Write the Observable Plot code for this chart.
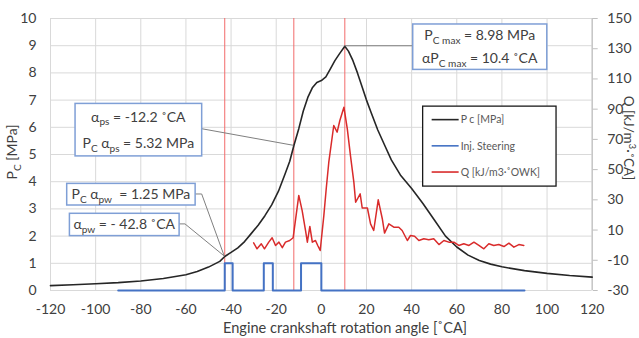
<!DOCTYPE html>
<html><head><meta charset="utf-8">
<script src="https://cdn.jsdelivr.net/npm/d3@7"></script>
<script src="https://cdn.jsdelivr.net/npm/@observablehq/plot@0.6"></script>
<style>
html,body{margin:0;padding:0;background:#fff}
#chart svg{font-family:Lato,"Open Sans",sans-serif;display:block}
</style>
</head><body><div id="chart"></div>
<script>
// ---- data ----
const pAngle = [-120,-110,-100,-90,-80,-70,-60,-55,-50,-45,-42.8,-40,-37,-34,-31,-28,-25,-22,-19,-16,-14,-12.2,-10,-8,-6,-4,-2,0,2,4,6,8,10.4,12,14,16,18,20,22,25,28,31,35,40,45,50,55,60,65,70,75,80,90,100,110,120];
const pValue = [0.18,0.21,0.25,0.29,0.35,0.44,0.58,0.7,0.86,1.07,1.25,1.4,1.57,1.8,2.1,2.4,2.75,3.15,3.65,4.3,4.75,5.32,5.95,6.6,7.1,7.45,7.65,7.72,7.85,8.15,8.45,8.7,8.98,8.8,8.45,8.0,7.5,7.0,6.55,5.9,5.35,4.8,4.25,3.75,3.2,2.6,2.0,1.6,1.3,1.1,0.97,0.87,0.73,0.63,0.55,0.49];

const injAngle = [-90,-42.8,-39.3,-25.5,-21.5,-9,0,90];
const injValue = [0,1,0,1,0,1,0,0];

const qAngle = [-30,-28.5,-26.6,-25.2,-23.3,-21.8,-20.3,-18.8,-17.3,-15.9,-14,-12.5,-10,-8.5,-7,-6.2,-5.1,-4,-2.6,-1.6,-0.5,1.1,2.2,3.3,5.5,7,8.2,10,11.5,12.9,14.4,15.2,17.2,18.1,20.4,21.8,23.2,25.2,27,28,29.9,32.1,34.3,35.8,38.1,39.5,41.3,43.2,45.4,47.6,49.8,52.1,54.3,56.5,58.7,60.9,63.1,65.4,67.6,69.8,72,74.2,76.4,78.6,80.9,83.1,85.3,87.5,89.7];
const qValue = [1.5,-2.4,0.9,-2.4,2,4.9,-0.2,2,-1.7,2,3.1,4.9,32.9,22.9,9.7,2,12.4,2,3.1,-0.2,-3.5,19.6,38,54.9,79.2,74.8,82.5,91.3,77,59.3,41.7,28.4,34,24.6,24.6,14.1,9.7,30,17.5,8,14.1,11.9,11.9,9.7,3.1,6.4,5.9,3.1,4.2,3.6,4.2,0.4,3.1,2,2,-0.2,0.9,-0.2,2,-0.2,-2.4,0.9,-0.2,0.4,-0.9,1.3,-1.3,0.4,-0.2];

const markerAngles = [-42.8,-12.2,10.4];
const xTicks = d3.range(-120,121,20);
const yTicks = d3.range(0,11,1);
const qTicks = d3.range(-30,151,20);
const qDomain = [-30,150];

const seriesNames = ["P c [MPa]","Inj. Steering","Q [kJ/m3·˚OWK]"];
const seriesColors = ["#262626","#4472c4","#d92b2b"];

// ---- tables ----
const qToP = q => (q-qDomain[0])/(qDomain[1]-qDomain[0])*10;
const pToQ = p => Math.round(p/10*(qDomain[1]-qDomain[0])+qDomain[0]);
const pData = pAngle.map((a,i)=>({a, v:pValue[i]}));
const injData = injAngle.map((a,i)=>({a, v:injValue[i]}));
const qData = qAngle.map((a,i)=>({a, v:qToP(qValue[i])}));

const W = 639, H = 338;
const fmt = d => String(d);
const plot = Plot.plot({
  width: W, height: H,
  marginLeft: 50, marginRight: 47.3, marginTop: 18, marginBottom: 48,
  x: {domain:[-120,120]},
  y: {domain:[0,10]},
  style: {fontFamily:"Lato, 'Open Sans', sans-serif", fontSize:"14px", color:"#404040", background:"#fff"},
  marks: [
    Plot.gridX(xTicks, {stroke:"#d9d9d9", strokeOpacity:1}),
    Plot.gridY(yTicks, {stroke:"#d9d9d9", strokeOpacity:1}),
    Plot.ruleX([120], {stroke:"#bfbfbf", strokeWidth:1.2}),
    Plot.axisY(yTicks, {anchor:"left", tickSize:0, tickPadding:14, label:null, fill:"#404040", tickFormat:fmt}),
    Plot.axisY(qTicks.map(qToP), {anchor:"right", tickSize:5, tickPadding:10, stroke:"#bfbfbf", label:null, fill:"#404040", tickFormat:d=>fmt(pToQ(d))}),
    Plot.axisX(xTicks, {anchor:"bottom", tickSize:0, tickPadding:14, label:null, fill:"#404040", tickFormat:fmt}),
    Plot.ruleX(markerAngles, {y1:0, y2:10, stroke:"#f26b6b", strokeWidth:1}),
    Plot.line(pData, {x:"a", y:"v", stroke:seriesColors[0], strokeWidth:1.6}),
    Plot.line(injData, {x:"a", y:"v", stroke:seriesColors[1], strokeWidth:2, curve:"step-after"}),
    Plot.line(qData, {x:"a", y:"v", stroke:seriesColors[2], strokeWidth:1.5})
  ]
});
document.getElementById("chart").appendChild(plot);

const sx = plot.scale("x").apply, sy = plot.scale("y").apply;
const svg = d3.select(plot);
const g = svg.append("g").attr("text-anchor","start");

function richText(parent, x, y, segs, size, anchor, fill){
  const t = parent.append("text").attr("x",x).attr("y",y)
    .attr("text-anchor",anchor||"middle").attr("font-size",size)
    .attr("fill",fill||"#404040").style("white-space","pre");
  let shift = 0;
  for (const [s,kind] of segs){
    const target = kind==="sub" ? size*0.28 : kind==="sup" ? -size*0.38 : 0;
    const ts = t.append("tspan").text(s).attr("dy", target-shift);
    if (kind) ts.attr("font-size", size*0.72);
    shift = target;
  }
  return t;
}

// axis titles
g.append("text").attr("x",345).attr("y",H-5).attr("text-anchor","middle")
  .attr("font-size",14.6).attr("fill","#404040").text("Engine crankshaft rotation angle [˚CA]");
richText(g.append("g").attr("transform","translate(17,152) rotate(-90)"),0,0,
  [["P"],["C","sub"],[" [MPa]"]],14,"middle");
richText(g.append("g").attr("transform","translate(624,138) rotate(90)"),0,0,
  [["Q [kJ/m"],["3","sup"],["·˚CA]"]],13.5,"middle");

// leader lines
const lead = (pts)=>g.append("polyline").attr("points",pts.map(p=>p.join(",")).join(" "))
  .attr("fill","none").attr("stroke","#808080").attr("stroke-width",1);
lead([[sx(10.4),sy(8.98)],[sx(40.7),sy(8.98)]]);
lead([[sx(-52.8),sy(5.93)],[sx(-12.2),sy(5.32)]]);
lead([[sx(-55.7),sy(3.53)],[sx(-52.8),sy(3.53)],[sx(-42.8),sy(1.25)]]);
lead([[sx(-62.8),sy(2.43)],[sx(-60.2),sy(2.43)],[sx(-42.8),sy(1.25)]]);

// annotation boxes
function box(a0,a1,p0,p1,lines){
  const x0=sx(a0), x1=sx(a1), y0=sy(p0), y1=sy(p1);
  g.append("rect").attr("x",x0).attr("y",y0).attr("width",x1-x0).attr("height",y1-y0)
    .attr("fill","#fff").attr("stroke","#7f9fd6").attr("stroke-width",1.5);
  const cx=(x0+x1)/2, h=y1-y0, n=lines.length;
  lines.forEach((segs,i)=>{
    const cy = y0 + h*(i+0.5)/n + 5;
    richText(g,cx,cy,segs,14,"middle");
  });
}
box(40.7,100.1,9.78,8.11,[
  [["P"],["C max","sub"],[" = 8.98 MPa"]],
  [["αP"],["C max","sub"],[" = 10.4 ˚CA"]]
]);
box(-108.9,-52.8,6.86,4.93,[
  [["α"],["ps","sub"],[" = -12.2 ˚CA"]],
  [["P"],["C","sub"],[" α"],["ps","sub"],[" = 5.32 MPa"]]
]);
box(-112.6,-55.7,3.92,3.125,[
  [["P"],["C","sub"],[" α"],["pw","sub"],["  = 1.25 MPa"]]
]);
box(-111.4,-62.8,2.82,2.0,[
  [["α"],["pw","sub"],[" = - 42.8 ˚CA"]]
]);

// legend
{
  const x0=sx(45.1), x1=sx(104.2), y0=sy(6.76), y1=sy(3.82);
  g.append("rect").attr("x",x0).attr("y",y0).attr("width",x1-x0).attr("height",y1-y0)
    .attr("fill","#fff").attr("stroke","#1a1a1a").attr("stroke-width",1.3);
  seriesNames.forEach((name,i)=>{
    const yy = y0 + 13.5 + i*26.2;
    g.append("line").attr("x1",x0+9).attr("x2",x0+36).attr("y1",yy).attr("y2",yy)
      .attr("stroke",seriesColors[i]).attr("stroke-width",1.6);
    g.append("text").attr("x",x0+38).attr("y",yy+3.8).attr("font-size",10.5)
      .attr("text-anchor","start").attr("fill","#595959").text(name);
  });
}
</script>
</body></html>
